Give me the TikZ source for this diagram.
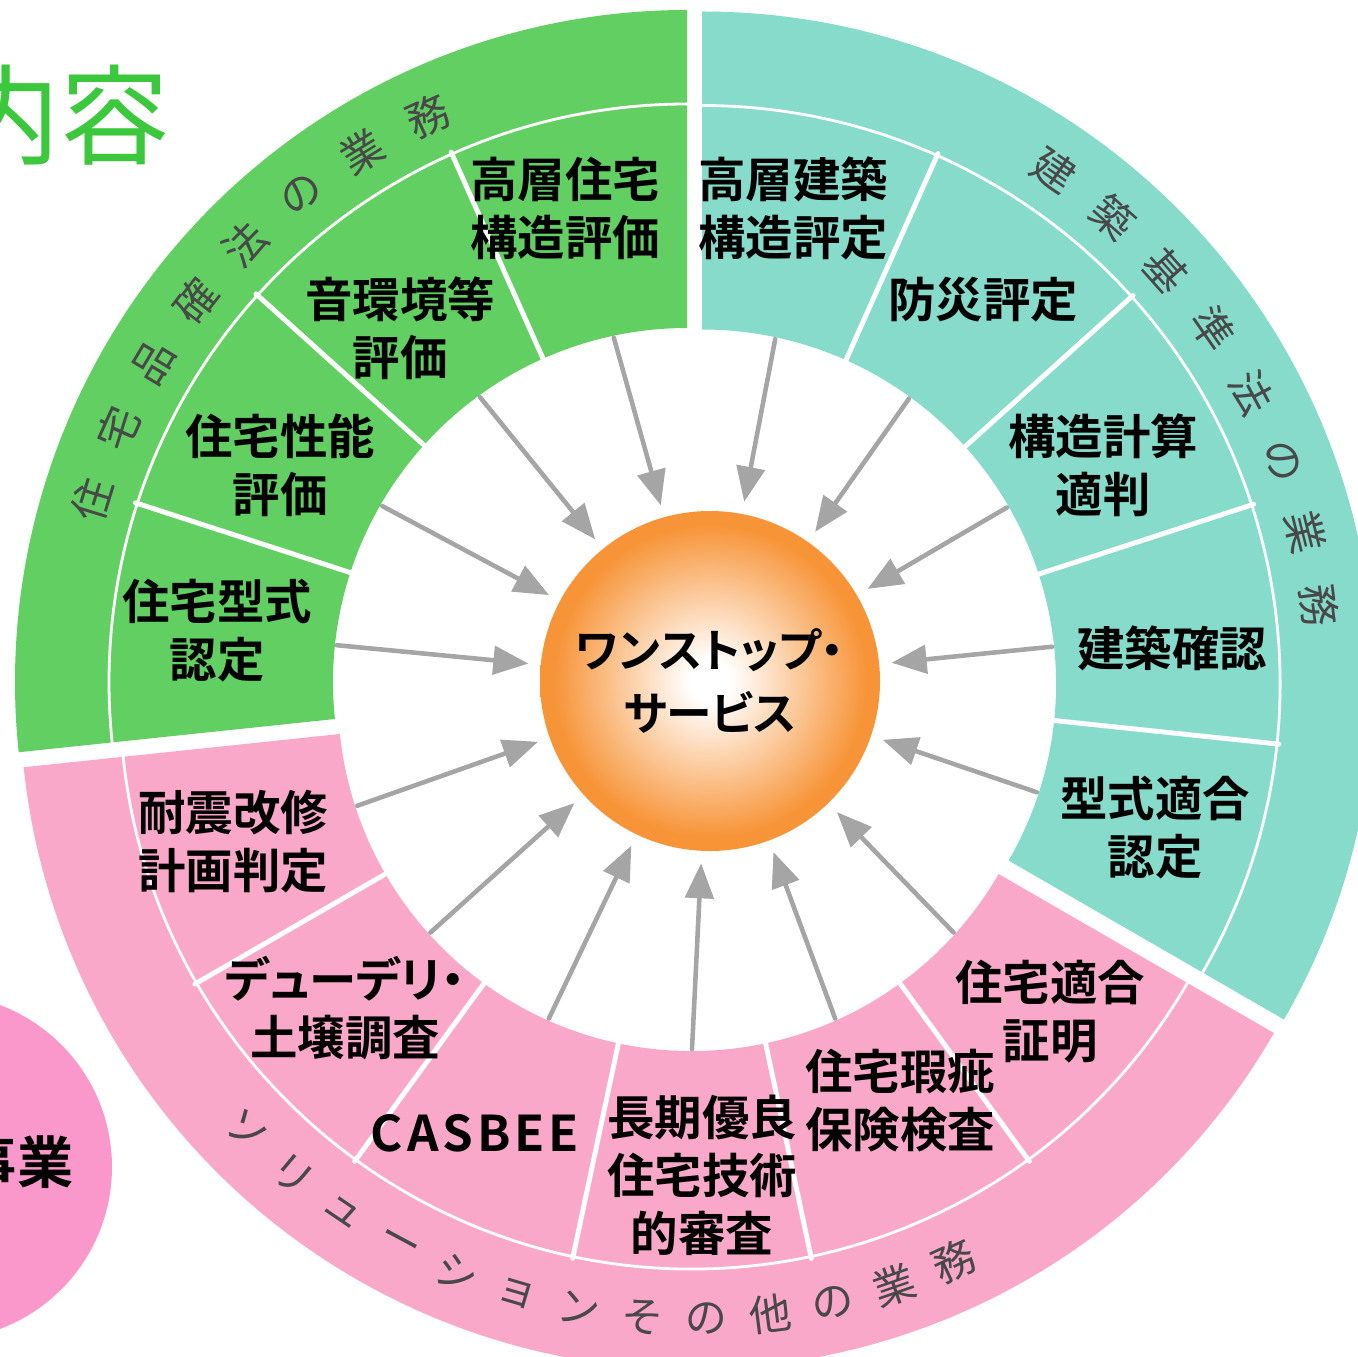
\documentclass[tikz,border=0pt]{standalone}
\usepackage{fontspec}
\setmainfont{Noto Sans CJK JP}[BoldFont={* Bold},RawFeature=+palt]
\usepackage{tikz}
\usetikzlibrary{arrows,calc}
\definecolor{grnband}{RGB}{98,207,98}
\definecolor{tealband}{RGB}{134,219,203}
\definecolor{pinkband}{RGB}{249,168,201}
\definecolor{pinkdisc}{RGB}{250,152,203}
\definecolor{hubor}{RGB}{247,148,56}
\definecolor{arrowgray}{RGB}{165,165,165}
\definecolor{titlegrn}{RGB}{60,200,60}
\definecolor{bandtxt}{RGB}{72,72,72}
\pgfdeclareradialshading{hubglow}{\pgfpoint{0bp}{0bp}}{color(0bp)=(white); color(3bp)=(white); color(23bp)=(hubor); color(50bp)=(hubor)}

\begin{document}
\begin{tikzpicture}[line cap=round,line join=round,>=triangle 45,x=1.0cm,y=1.0cm,
  lbl/.style={font=\bfseries\fontsize{13.5}{16.5}\selectfont,align=center,inner sep=0pt},
  band/.style={font=\fontsize{12}{12}\selectfont,text=bandtxt,inner sep=0pt},
  sep/.style={white,line width=1.4pt},
  seam/.style={white,line width=0.8pt},
  feed/.style={->,draw=arrowgray,line width=1.3pt,shorten >=0.12cm}]
\useasboundingbox (0.,0.) rectangle (13.58,13.56);
\clip(0.,0.) rectangle (13.58,13.56);
% centres of the three sectors
\coordinate (G) at (6.87,6.74);
\coordinate (T) at (7.02,6.725);
\coordinate (P) at (6.92,6.59);
% sectors
\fill[grnband,shift={(G)}] (90:3.54) arc (90:186:3.54) -- (186:6.72) arc (186:90:6.72) -- cycle;
\fill[tealband,shift={(T)}] (-30:3.54) arc (-30:90:3.54) -- (90:6.72) arc (90:-30:6.72) -- cycle;
\fill[pinkband,shift={(P)}] (186:3.54) arc (186:330:3.54) -- (330:6.72) arc (330:186:6.72) -- cycle;
\draw[seam,shift={(G)}] (90:5.78) arc (90:186:5.78);
\draw[seam,shift={(T)}] (-30:5.78) arc (-30:90:5.78);
\draw[seam,shift={(P)}] (186:5.72) arc (186:330:5.72);
\foreach \a in {114,138,162} \draw[sep,shift={(G)}] (\a:3.5) -- (\a:5.8);
\foreach \a in {66,42,18,-6} \draw[sep,shift={(T)}] (\a:3.5) -- (\a:5.8);
\foreach \a in {210,234,258,282,306} \draw[sep,shift={(P)}] (\a:3.5) -- (\a:5.74);
% curved band titles
\foreach \c [count=\i] in {住,宅,品,確,法,の,業,務} {
  \pgfmathsetmacro\ang{162.9-6.9*(\i-1)}
  \node[band,rotate=\ang-90] (gw\i) at ($(G)+(\ang:6.22)$) {\c};
}
\foreach \c [count=\i] in {建,築,基,準,法,の,業,務} {
  \pgfmathsetmacro\ang{55.5-6.9*(\i-1)}
  \node[band,rotate=\ang-90] (tw\i) at ($(T)+(\ang:6.22)$) {\c};
}
\foreach \c [count=\i] in {ソ,リ,ュ,ー,シ,ョ,ン,そ,の,他,の,業,務} {
  \pgfmathsetmacro\ang{224.1+5.9*(\i-1)}
  \node[band,rotate=\ang+90] (pw\i) at ($(P)+(\ang:6.22)$) {\c};
}
% labels
\node[lbl] (g1) at (5.65,11.48) {高層住宅\\構造評価};
\node[lbl] (g2) at (4.00,10.28) {音環境等\\評価};
\node[lbl] (g3) at (2.80,8.91) {住宅性能\\評価};
\node[lbl] (g4) at (2.17,7.25) {住宅型式\\認定};
\node[lbl] (t1) at (7.93,11.48) {高層建築\\構造評定};
\node[lbl] (t2) at (9.83,10.56) {防災評定};
\node[lbl] (t3) at (11.03,8.91) {構造計算\\適判};
\node[lbl] (t4) at (11.72,7.08) {建築確認};
\node[lbl] (t5) at (11.55,5.28) {型式適合\\認定};
\node[lbl] (p1) at (2.33,5.14) {耐震改修\\計画判定};
\node[lbl] (p2) at (3.45,3.48) {デューデリ・\\土壌調査};
\node[lbl,font=\bfseries\fontsize{14}{16}\selectfont\addfontfeatures{LetterSpace=8}] (p3) at (4.75,2.23) {CASBEE};
\node[lbl] (p4) at (7.02,1.81) {長期優良\\住宅技術\\的審査};
\node[lbl] (p5) at (9.00,2.55) {住宅瑕疵\\保険検査};
\node[lbl] (p6) at (10.50,3.44) {住宅適合\\証明};
% slide leftovers
\fill[pinkdisc] (-0.61,1.89) circle (1.73cm);
\node[anchor=east,inner sep=0pt,font=\bfseries\fontsize{16}{16}\selectfont] (biz) at (0.74,1.94) {事業};
\node[anchor=east,inner sep=0pt,text=titlegrn,font=\fontsize{31}{31}\selectfont] (ttl) at (1.70,12.41) {内容};
% hub
\node[circle,shade,shading=hubglow,minimum size=3.4cm,inner sep=0pt,align=center,font=\bfseries\fontsize{13}{18}\selectfont] (hub) at (7.10,6.75) {ワンストップ・\\サービス};
% arrows
\foreach \a [count=\i] in {102,126,150,174} \coordinate (gs\i) at ($(G)+(\a:3.52)$);
\foreach \a [count=\i] in {78,54,30,6,-18} \coordinate (ts\i) at ($(T)+(\a:3.52)$);
\foreach \a [count=\i] in {198,222,246,270,294,318} \coordinate (ps\i) at ($(P)+(\a:3.52)$);
\foreach \i in {1,...,4} \draw[feed] (gs\i) -- (hub);
\foreach \i in {1,...,5} \draw[feed] (ts\i) -- (hub);
\foreach \i in {1,...,6} \draw[feed] (ps\i) -- (hub);
\end{tikzpicture}
\end{document}
